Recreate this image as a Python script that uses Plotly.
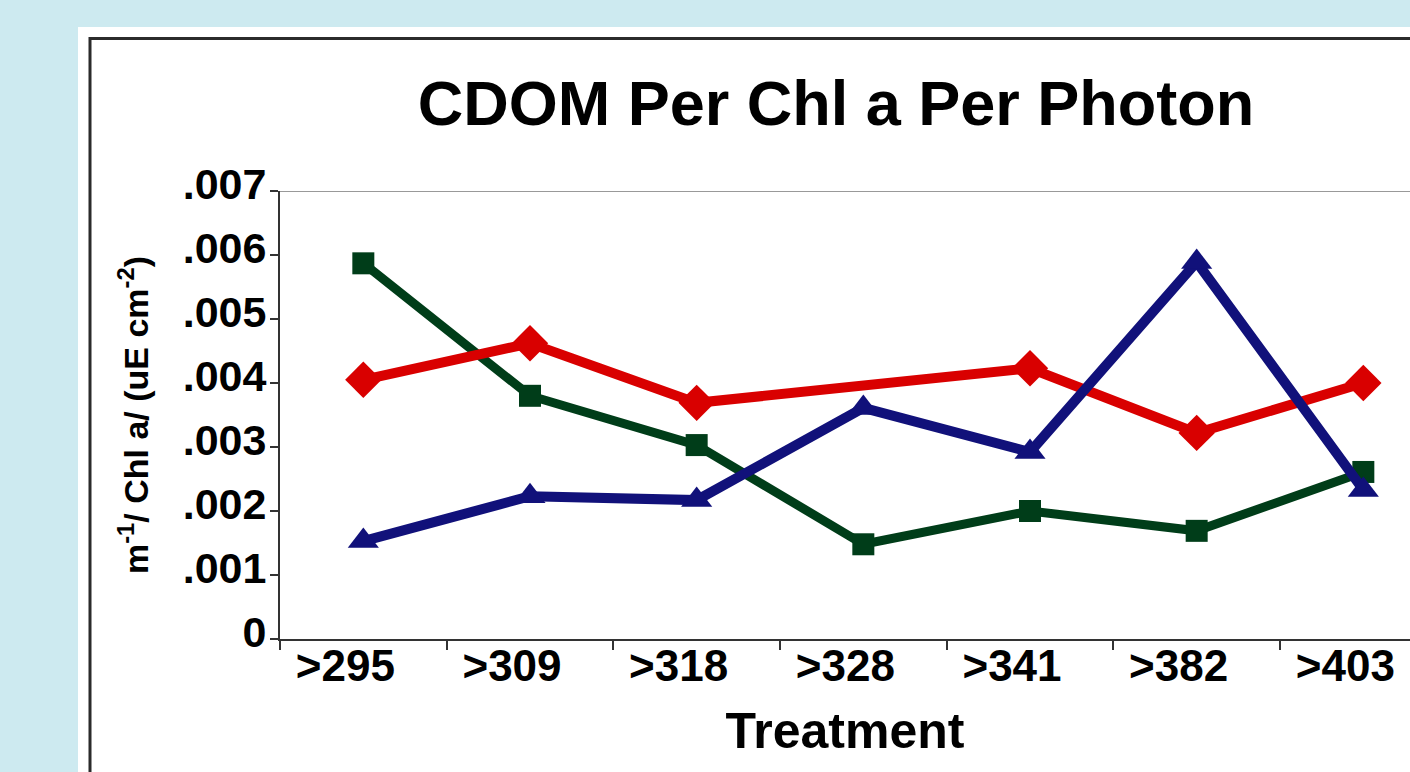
import plotly.graph_objects as go

# data
treatment = [">295", ">309", ">318", ">328", ">341", ">382", ">403"]
green_sq = [0.00587, 0.00380, 0.00303, 0.00148, 0.00200, 0.00169, 0.00261]
red_dia = [0.00405, 0.00462, 0.00369, None, 0.00423, 0.00322, 0.00400]
blue_tri = [0.00153, 0.00223, 0.00217, 0.00361, 0.00292, 0.00589, 0.00233]

ytick_vals = [0, 0.001, 0.002, 0.003, 0.004, 0.005, 0.006, 0.007]
ytick_text = ["0", ".001", ".002", ".003", ".004", ".005", ".006", ".007"]

W, H = 1410, 772
L, R, T, B = 280, 0, 191, 133
pw = W - L - R
ph = H - T - B


def px_x(p):
    return (p - L) / pw


def px_y(p):
    return (H - B - p) / ph


fig = go.Figure()

fig.add_trace(go.Scatter(
    x=treatment, y=green_sq, mode="lines+markers", name="green",
    line=dict(color="#003d19", width=9),
    marker=dict(symbol="square", size=22, color="#003d19", line=dict(width=0)),
))
fig.add_trace(go.Scatter(
    x=treatment, y=red_dia, mode="lines+markers", name="red",
    connectgaps=True,
    line=dict(color="#d90000", width=10),
    marker=dict(symbol="diamond", size=28, color="#d90000", line=dict(width=0)),
))
fig.add_trace(go.Scatter(
    x=treatment, y=blue_tri, mode="lines+markers", name="blue",
    line=dict(color="#11117a", width=10),
    marker=dict(symbol="triangle-up", size=27, color="#11117a", line=dict(width=0)),
))

# white panel and black frame behind the chart
fig.add_shape(type="rect", xref="paper", yref="paper", layer="below",
              x0=px_x(78), x1=px_x(1440), y0=px_y(800), y1=px_y(27),
              fillcolor="white", line=dict(width=0))
fig.add_shape(type="rect", xref="paper", yref="paper", layer="below",
              x0=px_x(90), x1=px_x(1440), y0=px_y(800), y1=px_y(38.5),
              fillcolor="white", line=dict(color="#2b2b2b", width=3))
# grey line on top of the plot area
fig.add_shape(type="line", xref="paper", yref="y", x0=0, x1=1,
              y0=0.007, y1=0.007, line=dict(color="#999999", width=2))

fig.update_layout(
    width=W, height=H,
    margin=dict(l=L, r=R, t=T, b=B),
    paper_bgcolor="#cdeaf0",
    plot_bgcolor="white",
    showlegend=False,
    font=dict(family="Liberation Sans, Arial, sans-serif", color="black"),
    title=dict(text="<b>CDOM Per Chl a Per Photon</b>", font=dict(size=63),
               x=836 / W, xref="container", xanchor="center",
               y=1 - 103 / H, yref="container", yanchor="middle"),
)

fig.update_xaxes(
    type="category", range=[-0.5, 6.28],
    showline=True, linecolor="#333333", linewidth=2,
    ticks="outside", tickson="boundaries", ticklen=9, tickwidth=2, tickcolor="#333333",
    tickfont=dict(size=44),
    tickprefix="<b>", ticksuffix="</b>",
    ticklabelstandoff=-13, ticklabelshift=-18,
    showgrid=False, zeroline=False,
    title=dict(text="<b>Treatment</b>", font=dict(size=50), standoff=24),
)
fig.update_yaxes(
    range=[0, 0.007],
    tickvals=ytick_vals, ticktext=["<b>" + t + "</b>" for t in ytick_text],
    showline=True, linecolor="#333333", linewidth=2,
    ticks="outside", ticklen=8, tickwidth=2, tickcolor="#333333",
    tickfont=dict(size=43),
    ticklabelstandoff=-5, ticklabelshift=-7,
    showgrid=False, zeroline=False,
    title=dict(text="<b>m<sup>-1</sup>/ Chl a/ (uE cm<sup>-2</sup>)</b>",
               font=dict(size=34), standoff=24),
)

fig.write_html("out.html", config={"displayModeBar": False},
               post_script="document.body.style.margin='0';document.body.style.overflow='hidden';")
